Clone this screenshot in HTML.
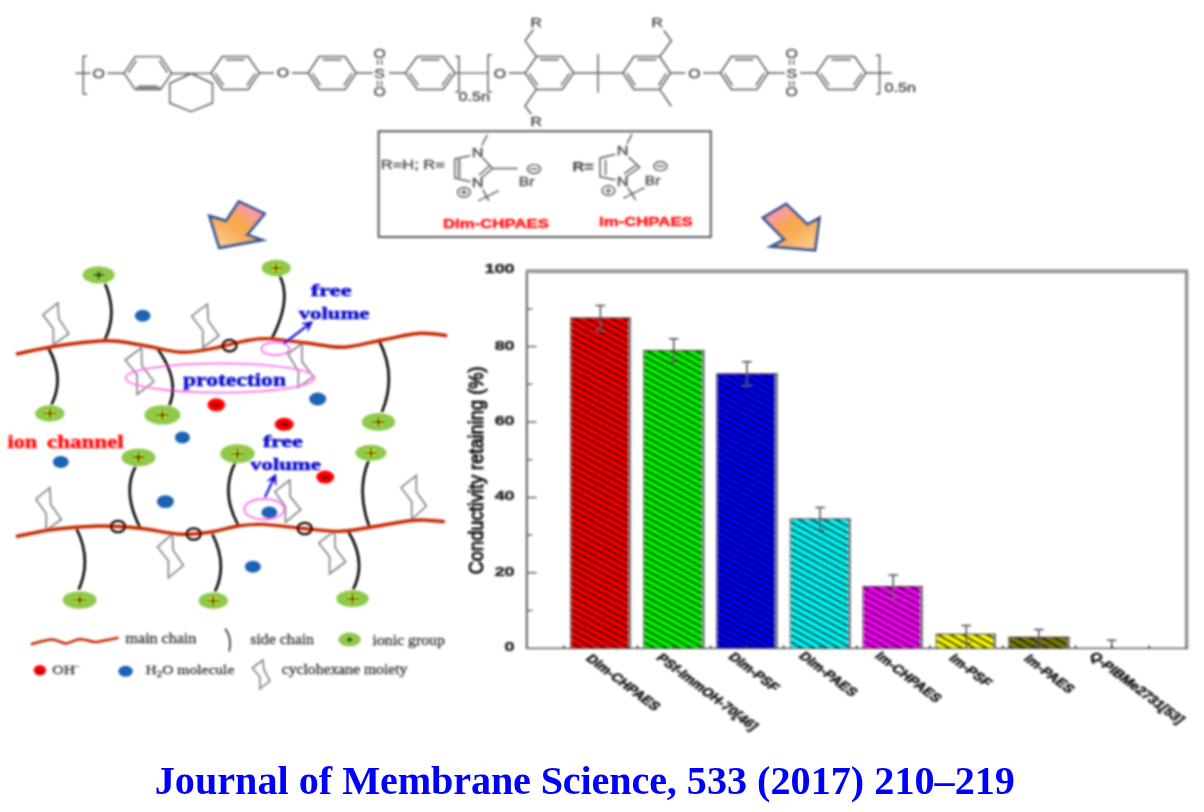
<!DOCTYPE html>
<html><head><meta charset="utf-8"><title>Graphical abstract</title>
<style>
html,body{margin:0;padding:0;background:#fff;}
body{width:1204px;height:812px;overflow:hidden;position:relative;}
svg{position:absolute;left:0;top:0;display:block;}
text{font-family:"Liberation Sans",sans-serif;}
.cap{font-family:"Liberation Serif",serif;font-weight:bold;font-size:40.2px;fill:#0000ff;}
</style></head><body>
<svg width="1204" height="812" viewBox="0 0 1204 812">
<defs>
<filter id="b1" x="-5%" y="-5%" width="110%" height="110%"><feGaussianBlur stdDeviation="0.8"/></filter>
<linearGradient id="ga" x1="0.85" y1="0.1" x2="0.2" y2="0.95"><stop offset="0" stop-color="#f896b2"/><stop offset="0.22" stop-color="#f7a092"/><stop offset="0.42" stop-color="#f8a848"/><stop offset="0.65" stop-color="#f8b05a"/><stop offset="1" stop-color="#fccb96"/></linearGradient>
<linearGradient id="gb" x1="0.15" y1="0.1" x2="0.85" y2="0.95"><stop offset="0" stop-color="#f896b2"/><stop offset="0.22" stop-color="#f7a092"/><stop offset="0.42" stop-color="#f8a848"/><stop offset="0.65" stop-color="#f8b05a"/><stop offset="1" stop-color="#fccb96"/></linearGradient>
<pattern id="hatch" patternUnits="userSpaceOnUse" width="40" height="5.85" patternTransform="rotate(28.4)"><rect x="0" y="0" width="40" height="2.3" fill="#000" fill-opacity="0.75"/></pattern>
</defs>
<rect width="1204" height="812" fill="#fff"/>
<g id="chem" fill="none" stroke="#5c5c5c" stroke-width="1.45" stroke-linejoin="round" stroke-linecap="round" filter="url(#b1)">
<path d="M86.6 56.2H83.3V94H86.6M75.8 73.2H90M108 73.2H124M124 73.1L135.2 56.6L160.5 56.6L171.7 73.1L160.5 89.6L135.2 89.6ZM128.5 72.3L136.1 61.1M159.6 61.1L167.2 72.3M139.2 86.3L156.5 86.3M171.7 73.2L191 73.5L211 73.1M191 73.5L169.7 83.5V103L191 111.7L212.5 103V83.5ZM211 73L222.3 56.5L248.1 56.5L259.4 73L248.1 89.5L222.3 89.5ZM226.4 59.8L244 59.8M215.5 73.8L223.2 85M254.9 73.8L247.2 85M259.4 73H273.3M292.4 73H308.2M308.2 73L319.1 56.5L345.1 56.5L356 73L345.1 89.5L319.1 89.5ZM323.3 59.8L340.9 59.8M312.7 73.8L320.1 85M351.5 73.8L344.1 85M356 73H372.5M389.6 73H405.3M405.3 73L417.3 56.5L443.1 56.5L455.1 73L443.1 89.5L417.3 89.5ZM421.4 59.8L439 59.8M409.9 73.7L418 84.9M450.5 73.7L442.4 84.9M377.6 60.3V64.3M381.6 60.3V64.3M377.6 81.5V85.5M381.6 81.5V85.5M789.7 60.3V64.3M793.7 60.3V64.3M789.7 81.5V85.5M793.7 81.5V85.5M455.8 56.5H459V92H455.8M455 73.1H488M491.3 55H488V92H491.3M509.7 73H525M525.1 73L536.5 56.5L562.3 56.5L573.7 73L562.3 89.5L536.5 89.5ZM540.6 59.8L558.2 59.8M529.6 73.8L537.4 84.9M569.2 73.8L561.4 84.9M536.3 56.5L525 40.7L533 30M536.3 89.4L525 106L531 113.8M573.7 73H623M598 54.5V92M623 73L633.9 56.5L659.7 56.5L670.6 73L659.7 89.5L633.9 89.5ZM638 59.8L655.6 59.8M627.5 73.8L634.9 85M666.1 73.8L658.7 85M659.8 56.5L671.4 40.7L664 30.8M659.8 89.4L671 106M670.6 73H684.7M703.8 73H720.4M720.4 73L731.3 56.5L757.1 56.5L768 73L757.1 89.5L731.3 89.5ZM735.4 59.8L753 59.8M724.9 73.8L732.3 85M763.5 73.8L756.1 85M768 73H784.4M800.7 73H816.5M816.5 73L827.8 56.5L854.6 56.5L865.9 73L854.6 89.5L827.8 89.5ZM832.1 59.8L850.3 59.8M821 73.8L828.7 84.9M861.4 73.8L853.7 84.9M866 73H891.2M876.4 55.2H879.6V93.9H876.4"/>
<path d="M137 87.8H159.5" stroke-width="2.4" stroke="#8a8a8a"/>
</g>
<g id="chemtxt" filter="url(#b1)">
<text transform="translate(98.6,77.6) scale(1.25,1)" font-size="12.6" text-anchor="middle" font-weight="normal" fill="#555" stroke="#555" stroke-width="0.45">O</text>
<text transform="translate(283,77.4) scale(1.25,1)" font-size="12.6" text-anchor="middle" font-weight="normal" fill="#555" stroke="#555" stroke-width="0.45">O</text>
<text transform="translate(379.6,77.6) scale(1.25,1)" font-size="12.6" text-anchor="middle" font-weight="normal" fill="#555" stroke="#555" stroke-width="0.45">S</text>
<text transform="translate(379.6,57.6) scale(1.25,1)" font-size="12.6" text-anchor="middle" font-weight="normal" fill="#555" stroke="#555" stroke-width="0.45">O</text>
<text transform="translate(379.6,96.1) scale(1.25,1)" font-size="12.6" text-anchor="middle" font-weight="normal" fill="#555" stroke="#555" stroke-width="0.45">O</text>
<text transform="translate(500,77.5) scale(1.25,1)" font-size="12.6" text-anchor="middle" font-weight="normal" fill="#555" stroke="#555" stroke-width="0.45">O</text>
<text transform="translate(536.3,27.4) scale(1.25,1)" font-size="12.6" text-anchor="middle" font-weight="normal" fill="#555" stroke="#555" stroke-width="0.45">R</text>
<text transform="translate(536.3,126) scale(1.25,1)" font-size="12.6" text-anchor="middle" font-weight="normal" fill="#555" stroke="#555" stroke-width="0.45">R</text>
<text transform="translate(657.3,27.4) scale(1.25,1)" font-size="12.6" text-anchor="middle" font-weight="normal" fill="#555" stroke="#555" stroke-width="0.45">R</text>
<text transform="translate(694.4,77.5) scale(1.25,1)" font-size="12.6" text-anchor="middle" font-weight="normal" fill="#555" stroke="#555" stroke-width="0.45">O</text>
<text transform="translate(791.7,77.6) scale(1.25,1)" font-size="12.6" text-anchor="middle" font-weight="normal" fill="#555" stroke="#555" stroke-width="0.45">S</text>
<text transform="translate(791.7,57.5) scale(1.25,1)" font-size="12.6" text-anchor="middle" font-weight="normal" fill="#555" stroke="#555" stroke-width="0.45">O</text>
<text transform="translate(791.7,96.3) scale(1.25,1)" font-size="12.6" text-anchor="middle" font-weight="normal" fill="#555" stroke="#555" stroke-width="0.45">O</text>
<text transform="translate(458.5,101) scale(1.35,1)" font-size="12" text-anchor="start" font-weight="normal" fill="#555" stroke="#555" stroke-width="0.45">0.5n</text>
<text transform="translate(884.6,91.7) scale(1.35,1)" font-size="12" text-anchor="start" font-weight="normal" fill="#555" stroke="#555" stroke-width="0.45">0.5n</text>
</g>
<g id="box" filter="url(#b1)">
<rect x="378.6" y="131.3" width="332.2" height="105.7" fill="none" stroke="#5a5a5a" stroke-width="2"/>
<g fill="none" stroke="#5c5c5c" stroke-width="1.45" stroke-linecap="round">
<path d="M454.7 159L469.7 155.7M454.7 178L469.7 181.5M454.7 159V178M483 158.2L492.6 168.5M492.6 168.5L481.3 178M489.6 165.8L479.4 174.8M482 145L487 135.3M492.6 168.5H517M483 189.8L488.8 200.6M600 158L614.8 154.5M600 176.8L614.8 179.8M600 158V176.8M605.6 160.5V174.5M628.9 157.4L639.7 167.3M639.7 167.3L626.4 176.5M636.6 164.9L624.6 173.4M627.2 143.3L631.7 134.6M628 188L635.5 199.7"/>
<path d="M459 160.5V176.5" stroke-width="3.4" stroke="#999"/>
<path d="M478.8 200.6L498 191M623.9 198L643.8 188" stroke-dasharray="3.2 1.6"/>
<ellipse cx="463.9" cy="192.3" rx="6.4" ry="4.8"/><ellipse cx="534" cy="169" rx="6.6" ry="4.4"/>
<ellipse cx="608.4" cy="190.6" rx="6.4" ry="4.8"/><ellipse cx="660.4" cy="166.2" rx="6.6" ry="4.4"/>
<path d="M460.9 192.3H466.9M463.9 190V194.6M530.5 169H537.5M605.4 190.6H611.4M608.4 188.3V192.9M656.9 166.2H663.9"/>
</g>
<text transform="translate(380.8,168.5) scale(1.265,1)" font-size="13" text-anchor="start" font-weight="normal" fill="#555" stroke="#555" stroke-width="0.45">R=H; R=</text>
<text transform="translate(572.4,171) scale(1.25,1)" font-size="13" text-anchor="start" font-weight="bold" fill="#555" stroke="#555" stroke-width="0.45">R=</text>
<text transform="translate(477.6,157) scale(1.25,1)" font-size="13" text-anchor="middle" font-weight="normal" fill="#555" stroke="#555" stroke-width="0.45">N</text>
<text transform="translate(477.6,187.4) scale(1.25,1)" font-size="13" text-anchor="middle" font-weight="normal" fill="#555" stroke="#555" stroke-width="0.45">N</text>
<text transform="translate(622.7,155.3) scale(1.25,1)" font-size="13" text-anchor="middle" font-weight="normal" fill="#555" stroke="#555" stroke-width="0.45">N</text>
<text transform="translate(622.7,186.4) scale(1.25,1)" font-size="13" text-anchor="middle" font-weight="normal" fill="#555" stroke="#555" stroke-width="0.45">N</text>
<text transform="translate(518.7,186.4) scale(1.25,1)" font-size="12.6" text-anchor="start" font-weight="normal" fill="#555" stroke="#555" stroke-width="0.45">Br</text>
<text transform="translate(644.7,184.5) scale(1.25,1)" font-size="12.6" text-anchor="start" font-weight="normal" fill="#555" stroke="#555" stroke-width="0.45">Br</text>
<text transform="translate(443,228.3) scale(1.29,1)" font-size="13" text-anchor="start" font-weight="bold" fill="#ff1a1a" stroke="#ff1a1a" stroke-width="0.45">DIm-CHPAES</text>
<text transform="translate(599,226) scale(1.29,1)" font-size="13" text-anchor="start" font-weight="bold" fill="#ff1a1a" stroke="#ff1a1a" stroke-width="0.45">Im-CHPAES</text>
</g>
<g id="arrows" filter="url(#b1)" stroke="#36598f" stroke-width="2.9" stroke-linejoin="miter">
<polygon points="238.9,201.5 264.5,213.8 247.2,234.9 262,240 219.3,247.8 209.5,216 226,221" fill="url(#ga)"/>
<polygon points="786.2,204 763,217.8 784.3,239.5 771,246.5 815,250.2 819.4,218 807.4,224.5" fill="url(#gb)"/>
</g>
<g id="scheme" filter="url(#b1)">
<path d="M57.8 302.8L42.9 314.8L53.4 328.7L53.4 344.7L68.8 333.7L58.8 318.8ZM207.3 304.2L191.7 316.2L202.9 330.7L202.9 347.7L218.9 335.7L208.3 320.8ZM141.5 347.7L125.2 360L137.1 374.6L137.1 394.5L153.9 381.6L141.9 365.6ZM302 343.3L287.8 354L298.5 371.6L298.2 387.5L313.3 376.6L302 361.6ZM49.8 487.7L35.9 499.2L46.2 513.6L46.2 530.5L61.4 519.2L50.8 504.6ZM289.8 480L274.8 491.7L285.4 506.6L285.4 522.5L300.7 509.6L290.2 496.6ZM416.3 475.3L401 487.7L411.7 501.6L411.7 519.6L426.3 506L416.3 491.7ZM172.4 534L157.5 546.9L168.4 560.8L168.4 577.8L183.4 565.4L173 549.9ZM334.6 531L318.7 542.9L329.6 556.8L329.6 573.8L345.6 561.8L335.2 547.9ZM262.9 660L252.3 668L260 677L260 688.8L270 680.9L264 670Z" fill="none" stroke="#858585" stroke-width="1.7" stroke-linejoin="miter"/>
<g fill="none" stroke="#ff70ee" stroke-width="1.8"><ellipse cx="220.2" cy="378" rx="94.5" ry="14.6"/><ellipse cx="275.4" cy="348.7" rx="14" ry="6.5"/><ellipse cx="264.2" cy="509.2" rx="20" ry="10.3"/></g>
<path d="M105 283.5Q118 314 104.6 340M48.4 348Q65 378 51.4 405M157.5 348.7Q180 380 169.4 405.5M279.8 276Q292 300 271.4 339.3M379.5 341.7Q397 376 381.8 412.3M135.5 466.7Q122 492 140 527.5M235.5 462Q220 492 238.3 525.5M368.5 460.8Q356 492 369.9 528.5M76.7 529Q92 560 78.7 589.7M212.3 534Q228 565 214.9 591.7M348.6 532Q367 562 353.1 589.7" fill="none" stroke="#000" stroke-width="2.6" stroke-linecap="butt"/>
<path d="M16 354C23.3 352.6 44.7 347.7 60 345.5C75.3 343.3 93.8 340.8 108 340.8C122.2 340.9 132.8 343.9 145 345.8C157.2 347.7 169.7 351.8 181 352.2C192.3 352.6 202.7 350.2 213 348.4C223.3 346.6 234 342.9 243 341.3C252 339.7 256.7 338.4 267 338.6C277.3 338.9 292.2 341.4 305 342.8C317.8 344.2 331.2 347.7 344 347.2C356.8 346.7 369.3 342.3 382 340C394.7 337.7 409.1 334 420 333.3C430.9 332.6 442.7 335.2 447.2 335.6M16 536.5C22.5 535.3 41 531 55 529.3C69 527.5 85.5 526.2 99.7 526C113.9 525.8 126.6 526.9 140 528.3C153.4 529.7 168 533.6 180 534.2C192 534.8 202.3 533.2 212 531.8C221.7 530.4 229.7 527.2 238 526C246.3 524.8 251.1 524 262 524.4C272.9 524.8 290.8 527.3 303.7 528.5C316.6 529.7 328.2 531.6 339.6 531.4C351 531.1 360.4 528.8 372 527C383.6 525.2 400.2 521.9 409.4 520.8C418.6 519.7 421.1 520 427 520.2C432.9 520.4 441.8 521.5 444.8 521.8" fill="none" stroke="#c62a00" stroke-width="3.4" stroke-linecap="butt"/>
<path d="M30.9 644.4C32.8 643.9 38.5 642.1 42 641.3C45.5 640.5 49 639.4 51.8 639.4C54.6 639.4 56.7 640.6 59 641.3C61.3 642 63.5 643.5 65.8 643.5C68.1 643.5 70.7 641.9 73 641.2C75.3 640.5 77.2 639.3 79.7 639.2C82.2 639.1 85.3 640.1 88 640.6C90.7 641.1 92.5 642.1 95.7 642C98.9 641.9 103.2 640.7 107 640C110.8 639.3 116.7 638 118.6 637.6" fill="none" stroke="#c62a00" stroke-width="2.5"/>
<path d="M225.2 628.6Q232.4 638 229.2 651.5" fill="none" stroke="#444" stroke-width="1.8"/>
<g fill="none" stroke="#000" stroke-width="2.3"><ellipse cx="229.6" cy="345.6" rx="7" ry="5.7"/><ellipse cx="118" cy="526.5" rx="7" ry="5.7"/><ellipse cx="193.7" cy="534" rx="7" ry="5.7"/><ellipse cx="304.7" cy="528.5" rx="7" ry="5.7"/></g>
<g><ellipse cx="98.7" cy="274.9" rx="16" ry="8.6" fill="#8fc94a"/><ellipse cx="276.2" cy="268" rx="14.6" ry="8.2" fill="#8fc94a"/><ellipse cx="49.8" cy="413.5" rx="14.7" ry="8.2" fill="#8fc94a"/><ellipse cx="162.4" cy="414.9" rx="18" ry="9.7" fill="#8fc94a"/><ellipse cx="138.5" cy="457.4" rx="17" ry="9" fill="#8fc94a"/><ellipse cx="237.5" cy="453.8" rx="17.2" ry="9.5" fill="#8fc94a"/><ellipse cx="378.5" cy="421.9" rx="16.7" ry="9" fill="#8fc94a"/><ellipse cx="370.9" cy="452.8" rx="15.6" ry="8" fill="#8fc94a"/><ellipse cx="79.7" cy="600" rx="17" ry="8.7" fill="#8fc94a"/><ellipse cx="213.3" cy="600.7" rx="14.6" ry="8.3" fill="#8fc94a"/><ellipse cx="352.5" cy="598.7" rx="16.2" ry="8.5" fill="#8fc94a"/><ellipse cx="349.6" cy="639.6" rx="11.3" ry="7" fill="#8fc94a"/><ellipse cx="276.2" cy="268" rx="4.6" ry="3" fill="#f2f200"/><ellipse cx="49.8" cy="413.5" rx="4.6" ry="3" fill="#f2f200"/><ellipse cx="162.4" cy="414.9" rx="4.6" ry="3" fill="#f2f200"/><ellipse cx="138.5" cy="457.4" rx="4.6" ry="3" fill="#f2f200"/><ellipse cx="237.5" cy="453.8" rx="4.6" ry="3" fill="#f2f200"/><ellipse cx="378.5" cy="421.9" rx="4.6" ry="3" fill="#f2f200"/><ellipse cx="370.9" cy="452.8" rx="4.6" ry="3" fill="#f2f200"/><ellipse cx="79.7" cy="600" rx="4.6" ry="3" fill="#f2f200"/><ellipse cx="213.3" cy="600.7" rx="4.6" ry="3" fill="#f2f200"/><ellipse cx="352.5" cy="598.7" rx="4.6" ry="3" fill="#f2f200"/></g>
<path d="M93.7 274.9H103.7M98.7 270.9V278.9M271.2 268H281.2M276.2 264V272M44.8 413.5H54.8M49.8 409.5V417.5M157.4 414.9H167.4M162.4 410.9V418.9M133.5 457.4H143.5M138.5 453.4V461.4M232.5 453.8H242.5M237.5 449.8V457.8M373.5 421.9H383.5M378.5 417.9V425.9M365.9 452.8H375.9M370.9 448.8V456.8M74.7 600H84.7M79.7 596V604M208.3 600.7H218.3M213.3 596.7V604.7M347.5 598.7H357.5M352.5 594.7V602.7M347 639.6H352.2M349.6 637.5V641.7" fill="none" stroke="#000" stroke-width="1.6"/>
<g fill="#1c62b5"><ellipse cx="142.7" cy="315.8" rx="7.8" ry="6"/><ellipse cx="317.7" cy="399" rx="8.5" ry="6.5"/><ellipse cx="182.4" cy="437.4" rx="7.5" ry="6"/><ellipse cx="60.8" cy="462" rx="8" ry="6"/><ellipse cx="165.4" cy="501.6" rx="8.5" ry="6.4"/><ellipse cx="269.4" cy="512.6" rx="8" ry="6"/><ellipse cx="252.9" cy="566.8" rx="8" ry="6"/><ellipse cx="125.6" cy="671.3" rx="7.3" ry="5.5"/></g>
<g fill="#ff0000"><ellipse cx="216.3" cy="404.8" rx="9" ry="6.5"/><ellipse cx="284.2" cy="424.3" rx="9.5" ry="6.5"/><ellipse cx="325.2" cy="477.1" rx="9" ry="6.5"/><ellipse cx="39.9" cy="670.3" rx="6.2" ry="5.3"/></g>
<path d="M212.1 405.2H220.5M280 424.7H288.4M321 477.5H329.4M37.5 671.5H42.5" stroke="#300" stroke-width="2.2" fill="none"/>
<g stroke="#1010d0" stroke-width="2.2" fill="#1010d0"><path d="M283.8 343.7L308.5 324.6" fill="none"/><path d="M312.7 321.4L301.7 323.5L307.9 325.1L307.8 331.5Z" stroke-width="0.6"/><path d="M264.8 497.6L273.6 478.8" fill="none"/><path d="M275.8 474.1L267.1 481.1L273.3 479.5L276.1 485.3Z" stroke-width="0.6"/></g>
<text x="310.7" y="296.2" font-size="17.5" font-weight="bold" fill="#0c0ccc" stroke="#0c0ccc" stroke-width="0.55" textLength="41" lengthAdjust="spacingAndGlyphs" style='font-family:"Liberation Serif",serif'>free</text>
<text x="298.7" y="318.8" font-size="17.5" font-weight="bold" fill="#0c0ccc" stroke="#0c0ccc" stroke-width="0.55" textLength="70.8" lengthAdjust="spacingAndGlyphs" style='font-family:"Liberation Serif",serif'>volume</text>
<text x="183" y="386.3" font-size="19.5" font-weight="bold" fill="#0c0ccc" stroke="#0c0ccc" stroke-width="0.55" textLength="103" lengthAdjust="spacingAndGlyphs" style='font-family:"Liberation Serif",serif'>protection</text>
<text x="262.9" y="447.4" font-size="17.5" font-weight="bold" fill="#0c0ccc" stroke="#0c0ccc" stroke-width="0.55" textLength="39.8" lengthAdjust="spacingAndGlyphs" style='font-family:"Liberation Serif",serif'>free</text>
<text x="250.3" y="469.7" font-size="17.5" font-weight="bold" fill="#0c0ccc" stroke="#0c0ccc" stroke-width="0.55" textLength="70.4" lengthAdjust="spacingAndGlyphs" style='font-family:"Liberation Serif",serif'>volume</text>
<text y="448.2" font-size="18.5" font-weight="bold" fill="#ff1010" stroke="#ff1010" stroke-width="0.55" style='font-family:"Liberation Serif",serif'><tspan x="7.6" textLength="29.6" lengthAdjust="spacingAndGlyphs">ion</tspan> <tspan x="47" textLength="76.6" lengthAdjust="spacingAndGlyphs">channel</tspan></text>
<text x="125.6" y="642.5" font-size="13.6" font-weight="normal" fill="#3a3a3a" stroke="#3a3a3a" stroke-width="0.35" textLength="70.7" lengthAdjust="spacingAndGlyphs" style='font-family:"Liberation Serif",serif'>main chain</text>
<text x="250.3" y="644" font-size="13.6" font-weight="normal" fill="#3a3a3a" stroke="#3a3a3a" stroke-width="0.35" textLength="63.7" lengthAdjust="spacingAndGlyphs" style='font-family:"Liberation Serif",serif'>side chain</text>
<text x="372.5" y="644.5" font-size="13.6" font-weight="normal" fill="#3a3a3a" stroke="#3a3a3a" stroke-width="0.35" textLength="72.3" lengthAdjust="spacingAndGlyphs" style='font-family:"Liberation Serif",serif'>ionic group</text>
<text x="52.3" y="673.5" font-size="13" fill="#3a3a3a" stroke="#3a3a3a" stroke-width="0.35" textLength="26.5" lengthAdjust="spacingAndGlyphs" style='font-family:"Liberation Serif",serif'>OH<tspan dy="-5" font-size="9">-</tspan></text>
<text x="145.6" y="673.5" font-size="13" fill="#3a3a3a" stroke="#3a3a3a" stroke-width="0.35" textLength="88.7" lengthAdjust="spacingAndGlyphs" style='font-family:"Liberation Serif",serif'>H<tspan dy="3" font-size="9">2</tspan><tspan dy="-3">O molecule</tspan></text>
<text x="281.8" y="673.5" font-size="13.6" font-weight="normal" fill="#3a3a3a" stroke="#3a3a3a" stroke-width="0.35" textLength="125.6" lengthAdjust="spacingAndGlyphs" style='font-family:"Liberation Serif",serif'>cyclohexane moiety</text>
</g>
<g id="chart" filter="url(#b1)">
<rect x="570.3" y="317.9" width="60.7" height="330.3" fill="#ff0000"/>
<rect x="570.3" y="317.9" width="60.7" height="330.3" fill="url(#hatch)"/>
<path d="M570.8 648.2V317.9" stroke="#777" stroke-width="1.2" fill="none"/>
<path d="M629.8 648.2V317.9" stroke="#808080" stroke-width="2.6" fill="none"/>
<path d="M570.3 318.2H631" stroke="#4a3030" stroke-width="1.2" fill="none"/>
<rect x="643.3" y="350.4" width="61.1" height="297.8" fill="#00ff00"/>
<rect x="643.3" y="350.4" width="61.1" height="297.8" fill="url(#hatch)"/>
<path d="M643.8 648.2V350.4" stroke="#777" stroke-width="1.2" fill="none"/>
<path d="M703.2 648.2V350.4" stroke="#808080" stroke-width="2.6" fill="none"/>
<path d="M643.3 350.7H704.4" stroke="#4a3030" stroke-width="1.2" fill="none"/>
<rect x="716.5" y="373.7" width="61" height="274.5" fill="#0000ff"/>
<rect x="716.5" y="373.7" width="61" height="274.5" fill="url(#hatch)"/>
<path d="M717 648.2V373.7" stroke="#777" stroke-width="1.2" fill="none"/>
<path d="M776.3 648.2V373.7" stroke="#808080" stroke-width="2.6" fill="none"/>
<path d="M716.5 374H777.5" stroke="#4a3030" stroke-width="1.2" fill="none"/>
<rect x="789.9" y="518.9" width="60.7" height="129.3" fill="#00ffff"/>
<rect x="789.9" y="518.9" width="60.7" height="129.3" fill="url(#hatch)"/>
<path d="M790.4 648.2V518.9" stroke="#777" stroke-width="1.2" fill="none"/>
<path d="M849.4 648.2V518.9" stroke="#808080" stroke-width="2.6" fill="none"/>
<path d="M789.9 519.2H850.6" stroke="#4a3030" stroke-width="1.2" fill="none"/>
<rect x="862.7" y="586.4" width="60" height="61.8" fill="#ff00ff"/>
<rect x="862.7" y="586.4" width="60" height="61.8" fill="url(#hatch)"/>
<path d="M863.2 648.2V586.4" stroke="#777" stroke-width="1.2" fill="none"/>
<path d="M921.5 648.2V586.4" stroke="#808080" stroke-width="2.6" fill="none"/>
<path d="M862.7 586.7H922.7" stroke="#4a3030" stroke-width="1.2" fill="none"/>
<rect x="935.8" y="634.1" width="60" height="14.1" fill="#ffff00"/>
<rect x="935.8" y="634.1" width="60" height="14.1" fill="url(#hatch)"/>
<path d="M936.3 648.2V634.1" stroke="#777" stroke-width="1.2" fill="none"/>
<path d="M994.6 648.2V634.1" stroke="#808080" stroke-width="2.6" fill="none"/>
<path d="M935.8 634.4H995.8" stroke="#4a3030" stroke-width="1.2" fill="none"/>
<rect x="1008.5" y="637.1" width="60.9" height="11.1" fill="#808000"/>
<rect x="1008.5" y="637.1" width="60.9" height="11.1" fill="url(#hatch)"/>
<path d="M1009 648.2V637.1" stroke="#777" stroke-width="1.2" fill="none"/>
<path d="M1068.2 648.2V637.1" stroke="#808080" stroke-width="2.6" fill="none"/>
<path d="M1008.5 637.4H1069.4" stroke="#4a3030" stroke-width="1.2" fill="none"/>
<path d="M595.6 305.5H605.2M600.4 305.5V330.4M595.6 330.4H605.2M668.9 338.7H678.5M673.7 338.7V362.1M668.9 362.1H678.5M742.1 361.7H751.7M746.9 361.7V385.8M742.1 385.8H751.7M815.3 507.6H824.9M820.1 507.6V530.2M815.3 530.2H824.9M888.4 575.1H898M893.2 575.1V597.7M888.4 597.7H898M961.5 625.4H971.1M966.3 625.4V642.7M961.5 642.7H971.1M1034 629.5H1043.6M1038.8 629.5V644.6M1034 644.6H1043.6M1106.9 640.3H1116.5M1111.7 640.3V648.2" stroke="#505050" stroke-width="1.5" fill="none"/>
<path d="M526.8 270V648.8" stroke="#6a6a6a" stroke-width="2.2" fill="none"/>
<path d="M526 271.3H1188" stroke="#9a9a9a" stroke-width="3.9" fill="none"/>
<path d="M1186.6 270V648.8" stroke="#909090" stroke-width="3.4" fill="none"/>
<path d="M526 648.4H1188" stroke="#444" stroke-width="1.4" fill="none"/>
<path d="M527 572.8H536.6M527 497.4H536.6M527 422H536.6M527 346.6H536.6M527 610.5H532.4M527 535.1H532.4M527 459.7H532.4M527 384.3H532.4M527 308.9H532.4" stroke="#666" stroke-width="1.5" fill="none"/>
<path d="M563.8 648.4V645.6M637.5 648.4V645.6M710.6 648.4V645.6M783.7 648.4V645.6M856.8 648.4V645.6M929.9 648.4V645.6M1002.8 648.4V645.6M1075.6 648.4V645.6M1149.2 648.4V645.6M600.4 648.4V644.8M673.7 648.4V644.8M746.9 648.4V644.8M820.1 648.4V644.8M893.2 648.4V644.8M966.3 648.4V644.8M1038.8 648.4V644.8M1111.7 648.4V644.8" stroke="#333" stroke-width="1.5" fill="none"/>
<text transform="translate(514.6,651.1) scale(1.34,1)" font-size="13.4" text-anchor="end" font-weight="bold" fill="#2c2c2c" stroke="#2c2c2c" stroke-width="0.5">0</text>
<text transform="translate(514.6,575.7) scale(1.34,1)" font-size="13.4" text-anchor="end" font-weight="bold" fill="#2c2c2c" stroke="#2c2c2c" stroke-width="0.5">20</text>
<text transform="translate(514.6,500.3) scale(1.34,1)" font-size="13.4" text-anchor="end" font-weight="bold" fill="#2c2c2c" stroke="#2c2c2c" stroke-width="0.5">40</text>
<text transform="translate(514.6,424.9) scale(1.34,1)" font-size="13.4" text-anchor="end" font-weight="bold" fill="#2c2c2c" stroke="#2c2c2c" stroke-width="0.5">60</text>
<text transform="translate(514.6,349.5) scale(1.34,1)" font-size="13.4" text-anchor="end" font-weight="bold" fill="#2c2c2c" stroke="#2c2c2c" stroke-width="0.5">80</text>
<text transform="translate(514.6,273) scale(1.34,1)" font-size="13.4" text-anchor="end" font-weight="bold" fill="#2c2c2c" stroke="#2c2c2c" stroke-width="0.5">100</text>
<text transform="translate(482.6,574.3) rotate(-90) scale(1,1.14)" font-size="18.2" fill="#0c0c0c" stroke="#0c0c0c" stroke-width="0.8" textLength="207.8" lengthAdjust="spacingAndGlyphs">Conductivity retaining (%)</text>
<text transform="translate(585,659.2) scale(1.33,1) rotate(45)" font-size="11.7" font-weight="bold" fill="#141414" stroke="#141414" stroke-width="0.45">DIm-CHPAES</text>
<text transform="translate(655.5,658.4) scale(1.33,1) rotate(45)" font-size="11.7" font-weight="bold" fill="#141414" stroke="#141414" stroke-width="0.45">PSf-ImmOH-70[46]</text>
<text transform="translate(727.5,657.5) scale(1.33,1) rotate(45)" font-size="11.7" font-weight="bold" fill="#141414" stroke="#141414" stroke-width="0.45">DIm-PSF</text>
<text transform="translate(798,656.7) scale(1.33,1) rotate(45)" font-size="11.7" font-weight="bold" fill="#141414" stroke="#141414" stroke-width="0.45">DIm-PAES</text>
<text transform="translate(874.1,656.7) scale(1.33,1) rotate(45)" font-size="11.7" font-weight="bold" fill="#141414" stroke="#141414" stroke-width="0.45">Im-CHPAES</text>
<text transform="translate(948,658.9) scale(1.33,1) rotate(45)" font-size="11.7" font-weight="bold" fill="#141414" stroke="#141414" stroke-width="0.45">Im-PSF</text>
<text transform="translate(1023,659.5) scale(1.33,1) rotate(45)" font-size="11.7" font-weight="bold" fill="#141414" stroke="#141414" stroke-width="0.45">Im-PAES</text>
<text transform="translate(1088.6,656.7) scale(1.33,1) rotate(45)" font-size="11.7" font-weight="bold" fill="#141414" stroke="#141414" stroke-width="0.45">Q-PIBMe2731[53]</text>
</g>
<text id="cap" class="cap" x="154.7" y="794">Journal of <tspan letter-spacing="-0.15">Membrane Science,</tspan> 533 (2017) 210–219</text>
</svg>
</body></html>
